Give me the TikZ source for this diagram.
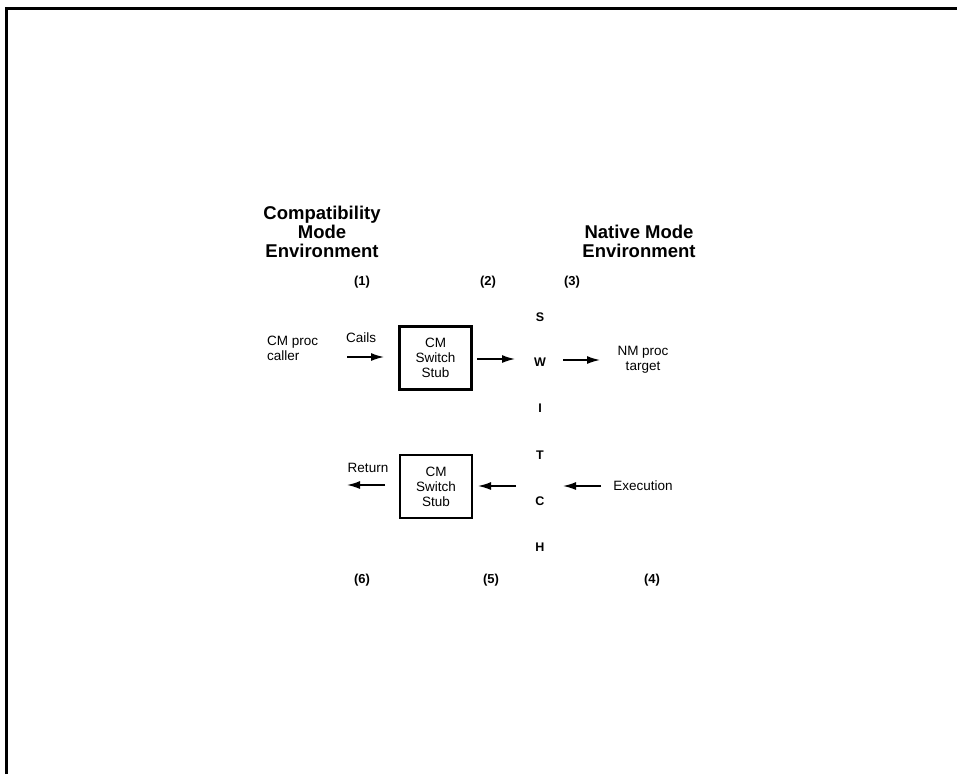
\documentclass[tikz,border=0pt]{standalone}
\usepackage{fontspec}
\setmainfont{Liberation Sans}
\usetikzlibrary{arrows.meta}
\begin{document}
\begin{tikzpicture}[x=1pt,y=-1pt,
  head/.style={font=\bfseries\fontsize{18.5}{19}\selectfont, align=center, inner sep=0},
  lbl/.style={font=\fontsize{13.5}{15}\selectfont, inner sep=0},
  num/.style={font=\bfseries\fontsize{13}{15}\selectfont, inner sep=0},
  letter/.style={font=\bfseries\fontsize{12.5}{14}\selectfont, inner sep=0},
  stubbox/.style={draw, line width=2.5pt, minimum width=72, minimum height=63,
    align=center, inner sep=0, font=\fontsize{13.5}{15}\selectfont},
  flow/.style={-{Latex[length=13,width=8]}, line width=1.5pt}]
\useasboundingbox (0,0) rectangle (957,774);

% frame
\draw[line width=3pt] (6.5,774) -- (6.5,8.5) -- (957,8.5);

% headings
\node[head] (cmenv) at (322,232) {Compatibility\\Mode\\Environment};
\node[head] (nmenv) at (639,241.5) {Native Mode\\Environment};

% step numbers
\node[num] (n1) at (362,282) {(1)};
\node[num] (n2) at (488,282) {(2)};
\node[num] (n3) at (572,282) {(3)};
\node[num] (n6) at (362,580) {(6)};
\node[num] (n5) at (491,580) {(5)};
\node[num] (n4) at (652,580) {(4)};

% SWITCH column
\node[letter] (sS) at (540,317) {S};
\node[letter] (sW) at (540,362) {W};
\node[letter] (sI) at (540,408) {I};
\node[letter] (sT) at (540,455) {T};
\node[letter] (sC) at (540,501) {C};
\node[letter] (sH) at (540,547) {H};

% call path
\node[lbl, align=left, anchor=west] (caller) at (267,348) {CM proc\\caller};
\node[lbl] (calls) at (361,338) {Cails};
\node[stubbox] (stubA) at (435.5,358) {CM\\Switch\\Stub};
\node[lbl, align=center] (target) at (643,359.5) {NM proc\\target};

\coordinate (c1s) at (347,357);
\coordinate (c1e) at (384,357);
\coordinate (c2s) at (477,359);
\coordinate (c2e) at (515,359);
\coordinate (c3s) at (563,360);
\coordinate (c3e) at (600,360);
\draw[flow] (c1s) -- (c1e);
\draw[flow] (c2s) -- (c2e);
\draw[flow] (c3s) -- (c3e);

% return path
\node[lbl] (ret) at (368,468) {Return};
\node[stubbox] (stubB) at (436,486.5) {CM\\Switch\\Stub};
\node[lbl] (exec) at (643,486) {Execution};

\coordinate (r1s) at (385,485);
\coordinate (r1e) at (347,485);
\coordinate (r2s) at (516,486);
\coordinate (r2e) at (478,486);
\coordinate (r3s) at (601,486);
\coordinate (r3e) at (563,486);
\draw[flow] (r3s) -- (r3e);
\draw[flow] (r2s) -- (r2e);
\draw[flow] (r1s) -- (r1e);
\end{tikzpicture}
\end{document}
